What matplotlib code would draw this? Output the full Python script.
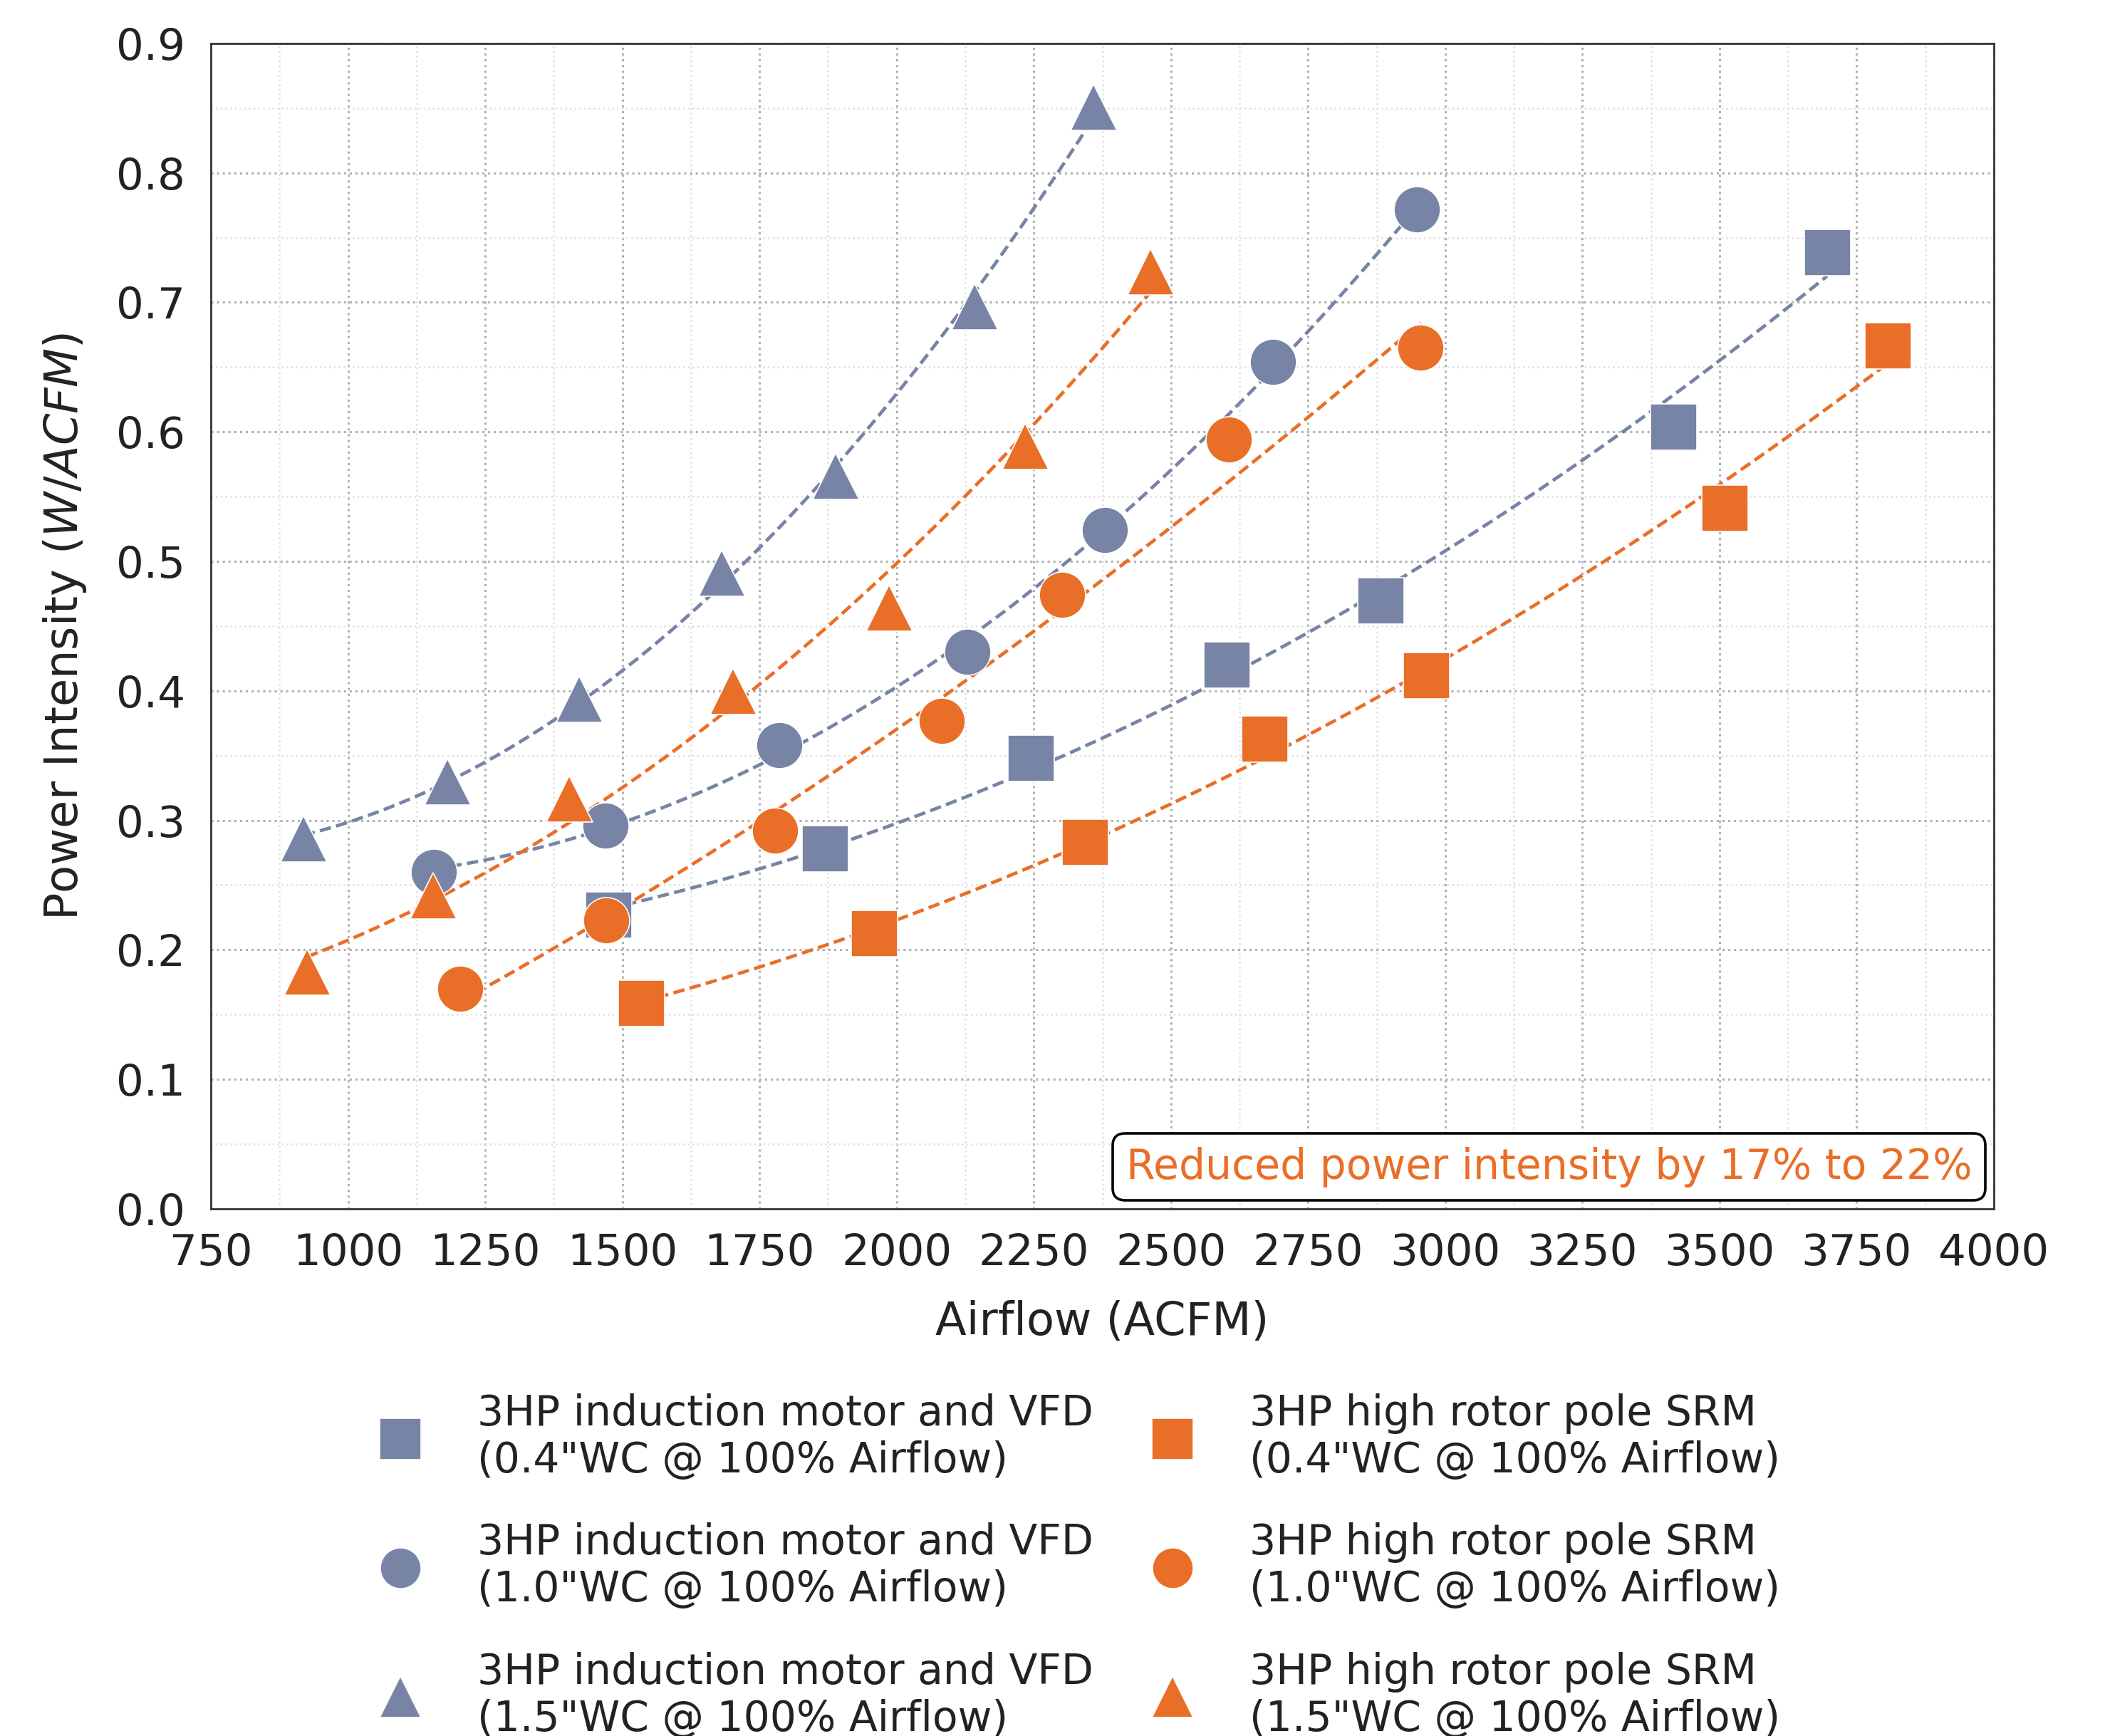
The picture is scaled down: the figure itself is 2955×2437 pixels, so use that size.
import numpy as np
import matplotlib
matplotlib.use("Agg")
import matplotlib.pyplot as plt
from matplotlib.offsetbox import AnchoredText
from matplotlib.ticker import MultipleLocator, FormatStrFormatter

# ---- data ----
im_sq_x = [1475, 1869, 2244, 2601, 2882, 3416, 3696]
im_sq_y = [0.227, 0.2785, 0.348, 0.420, 0.470, 0.604, 0.7385]
im_ci_x = [1156, 1469, 1786, 2129, 2380, 2686, 2948]
im_ci_y = [0.260, 0.296, 0.358, 0.430, 0.524, 0.654, 0.772]
im_tr_x = [919, 1181, 1421, 1681, 1889, 2142, 2359]
im_tr_y = [0.286, 0.330, 0.394, 0.491, 0.566, 0.697, 0.851]

srm_sq_x = [1534, 1959, 2343, 2671, 2965, 3509, 3806]
srm_sq_y = [0.159, 0.213, 0.2835, 0.363, 0.412, 0.541, 0.6665]
srm_ci_x = [1205, 1471, 1778, 2082, 2301, 2605, 2955]
srm_ci_y = [0.170, 0.223, 0.292, 0.377, 0.474, 0.594, 0.665]
srm_tr_x = [925, 1155, 1403, 1702, 1986, 2234, 2463]
srm_tr_y = [0.183, 0.242, 0.317, 0.400, 0.464, 0.589, 0.724]

labels = [
    '3HP induction motor and VFD\n(0.4"WC @ 100% Airflow)',
    '3HP induction motor and VFD\n(1.0"WC @ 100% Airflow)',
    '3HP induction motor and VFD\n(1.5"WC @ 100% Airflow)',
    '3HP high rotor pole SRM\n(0.4"WC @ 100% Airflow)',
    '3HP high rotor pole SRM\n(1.0"WC @ 100% Airflow)',
    '3HP high rotor pole SRM\n(1.5"WC @ 100% Airflow)',
]
annotation = "Reduced power intensity by 17% to 22%"

BLUE = "#7784A6"
ORANGE = "#E96E27"
TXT = "#222222"
FS = 21.0

plt.rcParams['font.family'] = ['DejaVu Sans']
plt.rcParams['mathtext.fontset'] = 'dejavusans'

fig = plt.figure(figsize=(14.775, 12.185), dpi=200)
ax = fig.add_axes([0.1002, 0.3037, 0.9472 - 0.1002, 0.975 - 0.3037])

series = [
    (im_sq_x, im_sq_y, 's', BLUE),
    (im_ci_x, im_ci_y, 'o', BLUE),
    (im_tr_x, im_tr_y, '^', BLUE),
    (srm_sq_x, srm_sq_y, 's', ORANGE),
    (srm_ci_x, srm_ci_y, 'o', ORANGE),
    (srm_tr_x, srm_tr_y, '^', ORANGE),
]

handles = []
for (xs, ys, m, c), lab in zip(series, labels):
    xs = np.asarray(xs, float)
    ys = np.asarray(ys, float)
    coef = np.polyfit(xs, ys, 2)
    xf = np.linspace(xs.min(), xs.max(), 200)
    ax.plot(xf, np.polyval(coef, xf), ls='--', color=c, lw=1.7,
            dashes=(3.4, 1.6), zorder=3)
    h, = ax.plot(xs, ys, ls='none', marker=m, ms=23.4, color=c,
                 mec='white', mew=0.6, zorder=4, label=lab)
    handles.append(h)

ax.set_xlim(750, 4000)
ax.set_ylim(0, 0.9)
ax.xaxis.set_major_locator(MultipleLocator(250))
ax.xaxis.set_minor_locator(MultipleLocator(125))
ax.yaxis.set_major_locator(MultipleLocator(0.1))
ax.yaxis.set_minor_locator(MultipleLocator(0.05))
ax.yaxis.set_major_formatter(FormatStrFormatter('%.1f'))
ax.grid(which='major', ls=':', color='#b0b0b0', lw=1.1, zorder=0)
ax.grid(which='minor', ls=':', color='#e0e0e0', lw=0.9, zorder=0)
ax.set_axisbelow(True)
ax.tick_params(which='both', length=0, labelsize=22, labelcolor=TXT)
ax.tick_params(axis='y', pad=13)
ax.tick_params(axis='x', pad=12)
for s in ax.spines.values():
    s.set_color('#333333')
    s.set_linewidth(1.0)

ax.set_xlabel('Airflow (ACFM)', fontsize=23, color=TXT, labelpad=13)
ax.set_ylabel(r'Power Intensity ($W/ACFM$)', fontsize=23, color=TXT, labelpad=14)

at = AnchoredText(annotation, loc='lower right', frameon=True, pad=0.32,
                  borderpad=0.2, prop=dict(color=ORANGE, size=FS))
at.patch.set_boxstyle("round,pad=0.,rounding_size=0.3")
at.patch.set_edgecolor('black')
at.patch.set_linewidth(1.3)
ax.add_artist(at)

leg = fig.legend(handles=handles, labels=labels, ncol=2, loc='upper center',
                 bbox_to_anchor=(0.513, 0.2165), frameon=False, fontsize=FS,
                 markerscale=0.88, handlelength=1.0, handletextpad=1.36,
                 columnspacing=1.4, labelspacing=1.0, borderpad=0.3)
for t in leg.get_texts():
    t.set_color(TXT)

fig.savefig('out.png', dpi=200)
